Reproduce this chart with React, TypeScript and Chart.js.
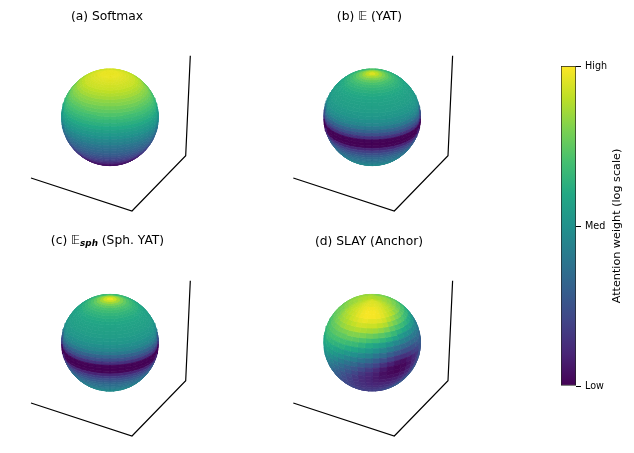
import React, { useEffect, useRef } from "react";
import { Chart, registerables } from "chart.js";

Chart.register(...registerables);

const WIDTH = 634;
const HEIGHT = 453;

// Colour scale (viridis)
const viridisStops = ["#440154", "#482576", "#414487", "#355f8d", "#2a788e", "#21918c", "#22a884", "#44bf70", "#7ad151", "#bddf26", "#fde725"];

// Attention weight per latitude band, north to south, 4 degrees each
const softmaxBands = [0.97, 0.97, 0.97, 0.96, 0.95, 0.94, 0.93, 0.92, 0.9, 0.88, 0.86, 0.83, 0.81, 0.78, 0.75, 0.72, 0.69, 0.66, 0.63, 0.6, 0.56, 0.53, 0.5, 0.46, 0.43, 0.39, 0.36, 0.33, 0.3, 0.27, 0.23, 0.2, 0.17, 0.13, 0.1, 0.08, 0.06, 0.05, 0.04, 0.03, 0.03, 0.03, 0.03, 0.03, 0.03];
const yatBands = [0.95, 0.9, 0.85, 0.8, 0.75, 0.71, 0.68, 0.65, 0.63, 0.61, 0.59, 0.58, 0.57, 0.56, 0.55, 0.535, 0.52, 0.49, 0.46, 0.4, 0.32, 0.24, 0.14, 0.01, 0.0, 0.01, 0.1, 0.18, 0.24, 0.29, 0.33, 0.36, 0.38, 0.4, 0.42, 0.43, 0.45, 0.46, 0.47, 0.47, 0.47, 0.47, 0.47, 0.47, 0.47];
const sphYatBands = [0.97, 0.92, 0.86, 0.8, 0.75, 0.71, 0.68, 0.65, 0.63, 0.61, 0.59, 0.58, 0.57, 0.56, 0.55, 0.535, 0.52, 0.49, 0.46, 0.4, 0.32, 0.24, 0.14, 0.01, 0.0, 0.01, 0.1, 0.18, 0.24, 0.29, 0.33, 0.36, 0.38, 0.4, 0.42, 0.43, 0.45, 0.46, 0.47, 0.47, 0.47, 0.47, 0.47, 0.47, 0.47];

// SLAY: rows north to south (6 degrees), columns left to right across the visible side (9 degrees), percent
const slayGrid = [
  [89, 90, 90, 91, 92, 92, 93, 94, 94, 94, 94, 94, 93, 93, 92, 91, 90, 90, 89, 88],
  [88, 89, 90, 91, 92, 93, 94, 95, 95, 95, 95, 95, 94, 94, 93, 91, 90, 89, 88, 87],
  [87, 88, 89, 91, 92, 94, 95, 96, 96, 96, 96, 96, 95, 94, 93, 91, 89, 88, 86, 85],
  [85, 87, 89, 90, 92, 94, 96, 97, 98, 98, 98, 97, 96, 94, 92, 90, 88, 86, 84, 83],
  [84, 86, 88, 90, 92, 94, 96, 98, 99, 99, 99, 98, 96, 94, 91, 89, 86, 84, 82, 80],
  [82, 84, 87, 89, 91, 93, 96, 98, 99, 99, 99, 98, 96, 93, 90, 87, 83, 81, 78, 76],
  [80, 82, 85, 87, 89, 92, 94, 96, 97, 96, 96, 95, 93, 89, 85, 81, 78, 75, 73, 71],
  [78, 80, 83, 85, 87, 89, 91, 93, 93, 92, 92, 90, 88, 83, 79, 75, 72, 69, 67, 65],
  [76, 78, 80, 82, 84, 86, 87, 88, 87, 86, 85, 83, 80, 75, 71, 68, 65, 62, 60, 58],
  [73, 75, 76, 78, 79, 80, 81, 81, 80, 78, 76, 74, 71, 67, 63, 60, 57, 55, 53, 52],
  [71, 72, 73, 74, 75, 75, 75, 74, 72, 70, 68, 65, 62, 58, 54, 51, 49, 47, 46, 46],
  [69, 69, 70, 70, 70, 69, 68, 67, 64, 61, 58, 55, 51, 47, 44, 42, 41, 40, 40, 41],
  [66, 66, 66, 65, 64, 63, 61, 59, 56, 53, 49, 45, 41, 37, 34, 33, 33, 34, 35, 37],
  [63, 62, 61, 60, 58, 56, 53, 50, 47, 44, 39, 35, 30, 26, 24, 24, 25, 27, 30, 32],
  [59, 58, 57, 55, 52, 49, 45, 42, 38, 34, 29, 24, 19, 15, 14, 15, 18, 21, 25, 29],
  [55, 54, 52, 49, 46, 42, 38, 34, 29, 25, 20, 14, 9, 5, 4, 7, 11, 16, 21, 26],
  [51, 49, 47, 44, 40, 36, 31, 27, 22, 17, 12, 7, 3, 1, 2, 5, 10, 15, 20, 25],
  [47, 45, 42, 39, 35, 31, 26, 21, 16, 12, 8, 4, 2, 1, 3, 7, 12, 17, 22, 26],
  [43, 41, 38, 34, 30, 26, 22, 17, 13, 10, 7, 5, 4, 4, 6, 10, 15, 20, 24, 28],
  [40, 37, 34, 30, 27, 23, 19, 15, 12, 10, 8, 7, 7, 8, 10, 14, 18, 23, 27, 31],
  [36, 34, 31, 28, 24, 21, 18, 15, 13, 11, 10, 10, 10, 12, 14, 18, 22, 26, 30, 33],
  [33, 31, 29, 26, 23, 20, 17, 15, 14, 13, 12, 13, 14, 15, 18, 21, 25, 29, 32, 35],
  [31, 29, 27, 24, 22, 20, 18, 16, 15, 15, 15, 15, 16, 18, 21, 24, 27, 31, 34, 36],
  [29, 27, 25, 23, 21, 20, 19, 18, 17, 17, 17, 18, 19, 21, 23, 26, 29, 32, 35, 37],
  [28, 26, 24, 22, 21, 20, 19, 18, 18, 18, 18, 19, 20, 22, 24, 27, 30, 33, 36, 38],
];

// Panels
const panelCentreX = [110, 372.2, 110, 372.2];
const panelCentreY = [117.3, 117.3, 342.7, 342.7];
const panelBandDeg = [4, 4, 4, 6];
const frameOriginX = [0, 262.3, 0, 262.3];
const frameOriginY = [0, 0, 225, 225];
const frameX = [31, 132, 185.7, 190.3];
const frameY = [178, 211, 155.7, 55.7];
const sphereRadius = 48.3;
const elevationDeg = 25;
const viewDistance = 30;
const lonDeg = 9;

const TITLE_FONT = "12.3px 'DejaVu Sans'";
const SUB_FONT = "italic bold 8.8px 'DejaVu Sans'";
const panelTitles = [
  { cx: 107, y: 19.5, parts: [{ text: "(a) Softmax", font: TITLE_FONT, dy: 0 }] },
  { cx: 369.5, y: 19.5, parts: [{ text: "(b) 𝔼 (YAT)", font: TITLE_FONT, dy: 0 }] },
  { cx: 107.5, y: 243.5, parts: [{ text: "(c) 𝔼", font: TITLE_FONT, dy: 0 }, { text: "sph", font: SUB_FONT, dy: 2.5 }, { text: " (Sph. YAT)", font: TITLE_FONT, dy: 0 }] },
  { cx: 369, y: 244.5, parts: [{ text: "(d) SLAY (Anchor)", font: TITLE_FONT, dy: 0 }] },
];

// Colour bar
const colorbarTicks = [0, 0.5, 1];
const colorbarLabels = ["Low", "Med", "High"];
const colorbarTitle = "Attention weight (log scale)";

function viridis(v: number): string {
  const t = Math.min(1, Math.max(0, v)) * (viridisStops.length - 1);
  const i = Math.min(viridisStops.length - 2, Math.floor(t));
  const f = t - i;
  const parse = (h: string) => [1, 3, 5].map((k) => parseInt(h.slice(k, k + 2), 16));
  const a = parse(viridisStops[i]);
  const b = parse(viridisStops[i + 1]);
  const c = a.map((av, k) => Math.round(av + (b[k] - av) * f));
  return `rgb(${c[0]},${c[1]},${c[2]})`;
}

const rad = Math.PI / 180;

function project(latDeg: number, lonD: number, panel: number) {
  const e = elevationDeg * rad;
  const phi = latDeg * rad;
  const lam = lonD * rad;
  const zv = Math.cos(phi) * Math.cos(lam) * Math.cos(e) + Math.sin(phi) * Math.sin(e);
  const yv = Math.sin(phi) * Math.cos(e) - Math.cos(phi) * Math.cos(lam) * Math.sin(e);
  const xv = Math.cos(phi) * Math.sin(lam);
  const k = (sphereRadius * Math.sqrt(viewDistance * viewDistance - 1)) / (viewDistance - zv);
  return { x: panelCentreX[panel] + xv * k, y: panelCentreY[panel] - yv * k, zv };
}

function cellValue(panel: number, row: number, lonMid: number): number {
  if (panel === 0) return softmaxBands[row];
  if (panel === 1) return yatBands[row];
  if (panel === 2) return sphYatBands[row];
  const r = slayGrid[Math.min(row, slayGrid.length - 1)];
  const c = Math.min(r.length - 1, Math.max(0, Math.floor((lonMid + 90) / lonDeg)));
  return r[c] / 100;
}

function sphereDatasets(panel: number) {
  const cells: { z: number; ds: any }[] = [];
  const bandDeg = panelBandDeg[panel];
  const rows = Math.round(180 / bandDeg);
  const cols = Math.round(360 / lonDeg);
  for (let row = 0; row < rows; row++) {
    const top = 90 - row * bandDeg;
    const bottom = top - bandDeg;
    for (let col = 0; col < cols; col++) {
      const left = -180 + col * lonDeg;
      const right = left + lonDeg;
      const corners = [project(top, left, panel), project(top, right, panel), project(bottom, right, panel), project(bottom, left, panel)];
      if (!corners.some((p) => p.zv > 1 / viewDistance)) continue;
      const color = viridis(cellValue(panel, row, (left + right) / 2));
      const z = corners.reduce((s, p) => s + p.zv, 0) / 4;
      cells.push({
        z,
        ds: {
          data: [...corners, corners[0]].map((p) => ({ x: p.x, y: p.y })),
          showLine: true,
          fill: "shape",
          backgroundColor: color,
          borderColor: color,
          borderWidth: 0.7,
          pointRadius: 0,
          tension: 0,
        },
      });
    }
  }
  cells.sort((a, b) => a.z - b.z);
  return cells.map((c) => c.ds);
}

function frameDataset(panel: number) {
  return {
    data: frameX.map((x, i) => ({ x: x + frameOriginX[panel], y: frameY[i] + frameOriginY[panel] })),
    showLine: true,
    fill: false,
    borderColor: "#000",
    borderWidth: 1.2,
    pointRadius: 0,
    tension: 0,
  };
}

const titlesPlugin = {
  id: "panelTitles",
  afterDraw(chart: any) {
    const ctx = chart.ctx;
    ctx.save();
    ctx.fillStyle = "#000";
    ctx.textBaseline = "alphabetic";
    ctx.textAlign = "left";
    for (const t of panelTitles) {
      let w = 0;
      for (const p of t.parts) {
        ctx.font = p.font;
        w += ctx.measureText(p.text).width;
      }
      let x = t.cx - w / 2;
      for (const p of t.parts) {
        ctx.font = p.font;
        ctx.fillText(p.text, x, t.y + p.dy);
        x += ctx.measureText(p.text).width;
      }
    }
    ctx.restore();
  },
};

const cbTitlePlugin = {
  id: "cbTitle",
  afterDraw(chart: any) {
    const ctx = chart.ctx;
    ctx.save();
    ctx.fillStyle = "#000";
    ctx.font = "11.2px 'DejaVu Sans'";
    ctx.textAlign = "center";
    ctx.textBaseline = "middle";
    ctx.translate(67, (chart.chartArea.top + chart.chartArea.bottom) / 2);
    ctx.rotate(-Math.PI / 2);
    ctx.fillText(colorbarTitle, 0, 0);
    ctx.restore();
  },
};

export default function App() {
  const mainRef = useRef<HTMLCanvasElement>(null);
  const barRef = useRef<HTMLCanvasElement>(null);

  useEffect(() => {
    document.body.style.margin = "0";
    const datasets: any[] = [];
    for (let p = 0; p < 4; p++) {
      datasets.push(frameDataset(p));
      datasets.push(...sphereDatasets(p));
    }
    const main = new Chart(mainRef.current!, {
      type: "scatter",
      data: { datasets },
      options: {
        animation: false,
        responsive: false,
        layout: { padding: 0 },
        plugins: { legend: { display: false }, tooltip: { enabled: false }, title: { display: false } },
        events: [],
        scales: {
          x: { type: "linear", min: 0, max: WIDTH, display: false },
          y: { type: "linear", min: 0, max: HEIGHT, reverse: true, display: false },
        },
      },
      plugins: [titlesPlugin],
    } as any);

    const bar = new Chart(barRef.current!, {
      type: "bar",
      data: {
        labels: ["weight"],
        datasets: [
          {
            data: [[colorbarTicks[0], colorbarTicks[2]]],
            backgroundColor: (c: any) => {
              const area = c.chart.chartArea;
              if (!area) return "#000";
              const g = c.chart.ctx.createLinearGradient(0, area.bottom, 0, area.top);
              viridisStops.forEach((s, i) => g.addColorStop(i / (viridisStops.length - 1), s));
              return g;
            },
            borderColor: "#222",
            borderWidth: 1,
            borderSkipped: false,
            barPercentage: 1,
            categoryPercentage: 1,
          },
        ],
      },
      options: {
        animation: false,
        responsive: false,
        layout: { padding: { top: 66, bottom: 67, left: 11, right: 0 } },
        plugins: { legend: { display: false }, tooltip: { enabled: false } },
        events: [],
        scales: {
          x: { display: false },
          y: {
            position: "right",
            min: 0,
            max: 1,
            afterBuildTicks: (s: any) => {
              s.ticks = colorbarTicks.map((value) => ({ value }));
            },
            afterFit: (s: any) => {
              s.width = 58;
            },
            ticks: {
              color: "#000",
              padding: 4,
              font: { family: "'DejaVu Sans'", size: 9.6 },
              autoSkip: false,
              callback: (v: any) => colorbarLabels[colorbarTicks.indexOf(v)],
            },
            grid: { drawOnChartArea: false, drawTicks: true, tickLength: 5, color: "#000", lineWidth: 1 },
            border: { display: false },
          },
        },
      },
      plugins: [cbTitlePlugin],
    } as any);

    return () => {
      main.destroy();
      bar.destroy();
    };
  }, []);

  return (
    <div style={{ position: "relative", width: WIDTH, height: HEIGHT, background: "#fff" }}>
      <canvas ref={mainRef} width={WIDTH} height={HEIGHT} style={{ position: "absolute", left: 0, top: 0 }} />
      <canvas ref={barRef} width={84} height={HEIGHT} style={{ position: "absolute", left: 550, top: 0 }} />
    </div>
  );
}
